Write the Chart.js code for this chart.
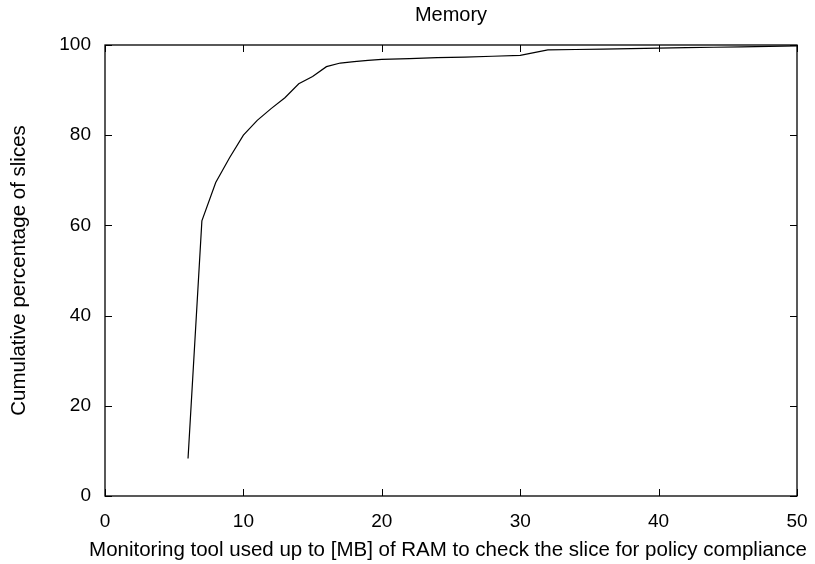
<!DOCTYPE html>
<html>
<head>
<meta charset="utf-8">
<script src="https://cdn.jsdelivr.net/npm/chart.js@4.4.0/dist/chart.umd.min.js"></script>
<style>
  html, body { margin: 0; padding: 0; background: #fff; }
  #wrap { width: 815px; height: 564px; }
</style>
</head>
<body>
<div id="wrap"><canvas id="mem-chart" width="815" height="564"></canvas></div>
<script>
// MB of RAM used (x) vs cumulative % of slices (y)
const memMB = [6, 7, 8, 9, 10, 11, 12, 13, 14, 15, 16, 17, 18, 19, 20, 22, 24, 26, 28, 30, 31, 32, 34, 36, 38, 40, 42, 44, 46, 48, 50];
const cumPct = [8.3, 61, 69.5, 75, 80, 83.3, 85.9, 88.3, 91.4, 93, 95.2, 96, 96.3, 96.6, 96.8, 97, 97.2, 97.3, 97.5, 97.7, 98.3, 98.9, 99.0, 99.1, 99.2, 99.3, 99.4, 99.5, 99.6, 99.7, 99.8];
const xTicks = [0, 10, 20, 30, 40, 50];
const yTicks = [0, 20, 40, 60, 80, 100];
const chartTitle = "Memory";
const xLabel = "Monitoring tool used up to [MB] of RAM to check the slice for policy compliance";

const FONT = "'Liberation Sans', Arial, sans-serif";

// gnuplot style: frame on all four sides, ticks pointing inward and mirrored
const frameTicks = {
  id: "frameTicks",
  afterDraw(chart) {
    const { ctx, chartArea: a, scales } = chart;
    const len = 7;
    ctx.save();
    ctx.strokeStyle = "#000";
    ctx.lineWidth = 1;
    ctx.beginPath();
    xTicks.forEach(v => {
      const px = Math.round(scales.x.getPixelForValue(v)) + 0.5;
      ctx.moveTo(px, a.bottom); ctx.lineTo(px, a.bottom - len);
      ctx.moveTo(px, a.top); ctx.lineTo(px, a.top + len);
    });
    yTicks.forEach(v => {
      const py = Math.round(scales.y.getPixelForValue(v)) + 0.5;
      ctx.moveTo(a.left, py); ctx.lineTo(a.left + len, py);
      ctx.moveTo(a.right, py); ctx.lineTo(a.right - len, py);
    });
    ctx.stroke();
    ctx.lineWidth = 1.3;
    ctx.strokeRect(a.left, a.top, a.right - a.left, a.bottom - a.top);

    // title and x label are centred on the plot, not the canvas
    // (and the x label is wider than the plot, a scale title would squeeze it)
    const cx = (a.left + a.right) / 2;
    ctx.fillStyle = "#000";
    ctx.textAlign = "center";
    ctx.textBaseline = "middle";
    ctx.font = "20px " + FONT;
    ctx.fillText(chartTitle, cx, 15);
    ctx.font = "20.5px " + FONT;
    ctx.fillText(xLabel, cx - 3, 550);
    ctx.restore();
  }
};

new Chart(document.getElementById("mem-chart").getContext("2d"), {
  type: "scatter",
  data: {
    datasets: [{
      label: chartTitle,
      data: memMB.map((x, i) => ({ x: x, y: cumPct[i] })),
      showLine: true,
      borderColor: "#000",
      borderWidth: 1.2,
      pointRadius: 0,
      tension: 0
    }]
  },
  options: {
    responsive: false,
    animation: false,
    layout: { padding: { left: 0, right: 18, top: 45, bottom: 0 } },
    plugins: {
      legend: { display: false },
      tooltip: { enabled: false },
      title: { display: false }
    },
    scales: {
      x: {
        type: "linear",
        min: 0, max: 50,
        afterBuildTicks: s => { s.ticks = xTicks.map(v => ({ value: v })); },
        afterFit: s => { s.height = 68; s.paddingLeft = 0; s.paddingRight = 0; },
        grid: { display: false, drawTicks: false },
        border: { display: false },
        ticks: { color: "#000", font: { family: FONT, size: 19 }, padding: 14.5, maxRotation: 0 },
        title: { display: false }
      },
      y: {
        type: "linear",
        min: 0, max: 100,
        afterBuildTicks: s => { s.ticks = yTicks.map(v => ({ value: v })); },
        afterFit: s => { s.width = 105; s.paddingTop = 0; s.paddingBottom = 0; },
        grid: { display: false, drawTicks: false },
        border: { display: false },
        ticks: { color: "#000", font: { family: FONT, size: 19 }, padding: 14 },
        title: {
          display: true,
          text: "Cumulative percentage of slices",
          color: "#000",
          font: { family: FONT, size: 20.5 },
          padding: { top: 7, bottom: 0 }
        }
      }
    }
  },
  plugins: [frameTicks]
});
</script>
</body>
</html>
